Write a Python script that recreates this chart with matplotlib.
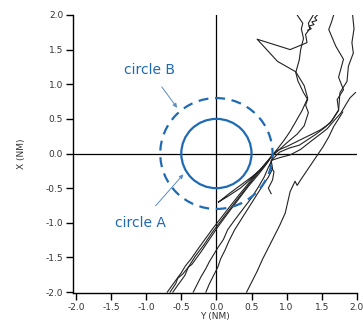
import matplotlib
matplotlib.use("Agg")
import matplotlib.pyplot as plt
import numpy as np
from matplotlib.patches import Circle

BLUE = '#1f6ab4'
ARROW_BLUE = '#5a8cc4'

# trajectories: horizontal = Y (NM), vertical = X (NM)
traj1_y = [-0.70, -0.60, -0.50, -0.44, -0.36, -0.25, -0.15, -0.05, 0.05, 0.18, 0.32, 0.45,
           0.58, 0.70, 0.78, 0.90, 1.02, 1.15, 1.25, 1.31, 1.27, 1.30, 1.24, 1.16, 1.13,
           1.18, 1.20, 1.24, 1.21, 1.23, 1.15]
traj1_x = [-2.00, -1.86, -1.72, -1.62, -1.52, -1.36, -1.22, -1.08, -0.95, -0.78, -0.60, -0.44,
           -0.28, -0.14, -0.05, 0.06, 0.17, 0.28, 0.40, 0.59, 0.70, 0.78, 0.88, 1.05, 1.17,
           1.35, 1.50, 1.66, 1.80, 1.88, 2.00]

traj2_y = [-0.66, -0.58, -0.55, -0.48, -0.40, -0.30, -0.18, -0.06, 0.05, 0.20, 0.36, 0.50,
           0.62, 0.72, 0.80, 0.88, 0.97, 1.05, 1.13, 1.22, 1.30, 1.25, 1.13, 0.87, 0.58,
           1.05, 1.17, 1.29, 1.27, 1.33, 1.31, 1.38]
traj2_x = [-2.00, -1.88, -1.80, -1.74, -1.64, -1.48, -1.32, -1.14, -0.99, -0.79, -0.58, -0.40,
           -0.25, -0.12, -0.02, 0.08, 0.20, 0.32, 0.46, 0.62, 0.80, 0.98, 1.18, 1.33, 1.65,
           1.50, 1.55, 1.60, 1.72, 1.80, 1.88, 2.00]

traj3_y = [-0.62, -0.55, -0.45, -0.40, -0.35, -0.22, -0.10, 0.02, 0.15, 0.30, 0.45, 0.60,
           0.70, 0.77, 0.86, 1.00, 1.12, 1.24, 1.36, 1.48, 1.62, 1.74, 1.72, 1.81, 1.74,
           1.78, 1.81, 1.70, 1.60, 1.64, 1.67]
traj3_x = [-2.00, -1.90, -1.76, -1.64, -1.60, -1.42, -1.24, -1.06, -0.88, -0.68, -0.48, -0.30,
           -0.17, -0.06, 0.04, 0.10, 0.16, 0.22, 0.28, 0.34, 0.44, 0.63, 0.78, 0.92, 1.10,
           1.25, 1.36, 1.55, 1.79, 1.90, 2.00]

traj4_y = [-0.33, -0.27, -0.22, -0.15, -0.10, -0.04, 0.02, 0.10, 0.16, 0.26, 0.38, 0.50,
           0.60, 0.68, 0.74, 0.80, 0.90, 1.04, 1.18, 1.30, 1.42, 1.55, 1.65, 1.74, 1.76,
           1.86, 1.88, 1.95, 1.93, 1.96, 1.94]
traj4_x = [-2.00, -1.88, -1.78, -1.66, -1.56, -1.46, -1.36, -1.24, -1.10, -0.96, -0.80, -0.64,
           -0.48, -0.34, -0.20, -0.08, 0.02, 0.08, 0.12, 0.20, 0.28, 0.38, 0.48, 0.62, 0.88,
           1.04, 1.26, 1.45, 1.60, 1.80, 2.00]

traj5_y = [-0.15, -0.10, -0.04, 0.02, 0.06, 0.12, 0.18, 0.26, 0.36, 0.46, 0.56, 0.66,
           0.74, 0.80, 0.78, 0.90, 1.05, 1.20, 1.35, 1.48, 1.58, 1.68, 1.77, 1.84, 1.90,
           1.98]
traj5_x = [-2.00, -1.88, -1.76, -1.64, -1.52, -1.40, -1.26, -1.10, -0.94, -0.78, -0.62, -0.46,
           -0.34, -0.22, -0.10, -0.06, -0.02, 0.06, 0.18, 0.28, 0.36, 0.48, 0.58, 0.70, 0.80,
           0.88]

traj6_y = [0.43, 0.50, 0.58, 0.66, 0.74, 0.82, 0.90, 0.98, 1.05, 1.12, 1.15, 1.20, 1.28,
           1.36, 1.44, 1.52, 1.60, 1.67, 1.74, 1.80]
traj6_x = [-2.00, -1.86, -1.70, -1.52, -1.36, -1.20, -1.04, -0.86, -0.55, -0.40, -0.46, -0.38,
           -0.26, -0.14, -0.02, 0.10, 0.24, 0.39, 0.50, 0.60]

traj7_y = [0.03, 0.18, 0.34, 0.50, 0.62, 0.72, 0.78, 0.66, 0.50, 0.34, 0.16, 0.03]
traj7_x = [-0.70, -0.58, -0.46, -0.34, -0.24, -0.14, -0.05, -0.20, -0.36, -0.50, -0.62, -0.70]

traj8_y = [0.80, 0.76, 0.82, 0.80, 0.74, 0.78]
traj8_x = [-0.05, -0.18, -0.26, -0.38, -0.50, -0.58]

traj9_y = [1.44, 1.40, 1.43, 1.36, 1.39, 1.32, 1.35, 1.30]
traj9_x = [2.00, 1.96, 1.92, 1.90, 1.86, 1.84, 1.80, 1.78]

trajectories = [(traj1_y, traj1_x), (traj2_y, traj2_x), (traj3_y, traj3_x),
                (traj4_y, traj4_x), (traj5_y, traj5_x), (traj6_y, traj6_x),
                (traj7_y, traj7_x), (traj8_y, traj8_x), (traj9_y, traj9_x)]

radius_a = 0.5
radius_b = 0.8
ticks = [-2.0, -1.5, -1.0, -0.5, 0.0, 0.5, 1.0, 1.5, 2.0]

fig = plt.figure(figsize=(3.63, 3.32), dpi=100)
ax = fig.add_axes([0.201, 0.117, 0.782, 0.838])

ax.axhline(0, color='black', lw=0.9, zorder=1)
ax.axvline(0, color='black', lw=0.9, zorder=1)

for ty, tx in trajectories:
    ax.plot(ty, tx, color='#222222', lw=0.8, zorder=2)

ax.add_patch(Circle((0, 0), radius_a, fill=False, ec=BLUE, lw=1.6, zorder=3))
ax.add_patch(Circle((0, 0), radius_b, fill=False, ec=BLUE, lw=1.6,
                    ls=(0, (4.5, 3)), zorder=3))

ax.annotate('circle B', xy=(-0.56, 0.66), xytext=(-0.95, 1.2),
            color=BLUE, fontsize=10, ha='center', va='center',
            arrowprops=dict(arrowstyle='-|>', color=ARROW_BLUE, lw=0.7,
                            mutation_scale=6, shrinkA=6, shrinkB=0))
ax.annotate('circle A', xy=(-0.47, -0.30), xytext=(-1.08, -1.0),
            color=BLUE, fontsize=10, ha='center', va='center',
            arrowprops=dict(arrowstyle='-|>', color=ARROW_BLUE, lw=0.7,
                            mutation_scale=6, shrinkA=7, shrinkB=0))

ax.set_xlim(-2.043, 2.0)
ax.set_ylim(-2.015, 2.0)
ax.set_xticks(ticks)
ax.set_yticks(ticks)
ax.set_xticklabels(['%.1f' % t for t in ticks])
ax.set_yticklabels(['%.1f' % t for t in ticks])
ax.tick_params(labelsize=6.5, length=5, width=1, colors='black', labelcolor='#333333', pad=2)
for side in ['top', 'right']:
    ax.spines[side].set_visible(False)
for side in ['left', 'bottom']:
    ax.spines[side].set_linewidth(1)
ax.set_xlabel('Y (NM)', fontsize=6.5, color='#333333', labelpad=0)
ax.set_ylabel('X (NM)', fontsize=6.5, color='#333333', labelpad=14)

fig.savefig('out.png', dpi=100)
